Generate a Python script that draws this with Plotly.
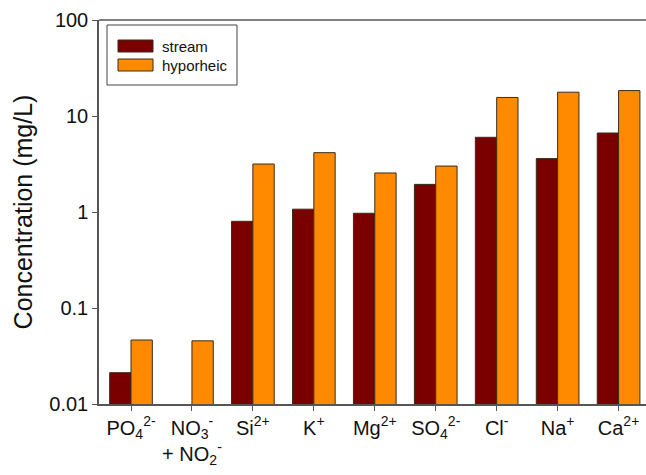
import plotly.graph_objects as go

categories = ["PO<sub>4</sub><sup>2-</sup>", "NO<sub>3</sub><sup>-</sup><br>+ NO<sub>2</sub><sup>-</sup>",
              "Si<sup>2+</sup>", "K<sup>+</sup>", "Mg<sup>2+</sup>", "SO<sub>4</sub><sup>2-</sup>",
              "Cl<sup>-</sup>", "Na<sup>+</sup>", "Ca<sup>2+</sup>"]
stream = [0.0212, None, 0.80, 1.07, 0.97, 1.94, 6.0, 3.6, 6.65]
hyporheic = [0.0464, 0.0455, 3.16, 4.15, 2.55, 3.01, 15.6, 17.7, 18.4]
ytickvals = [0.01, 0.1, 1, 10, 100]
yticktext = ["0.01", "0.1", "1", "10", "100"]

FONT = "Liberation Sans, Arial, sans-serif"
c_stream = "#7a0000"
c_hyp = "#ff8a00"
edge = dict(color="#3b2b1b", width=1)

xs = list(range(len(categories)))
fig = go.Figure()
fig.add_trace(go.Bar(x=xs, y=stream, name="stream", marker=dict(color=c_stream, line=edge), showlegend=False))
fig.add_trace(go.Bar(x=xs, y=hyporheic, name="hyporheic", marker=dict(color=c_hyp, line=edge), showlegend=False))

fig.update_layout(
    width=646, height=475,
    margin=dict(l=99, r=0, t=20, b=71),
    plot_bgcolor="white", paper_bgcolor="white",
    barmode="group", bargap=0.3, bargroupgap=0,
    font=dict(family=FONT, size=20, color="#111"),
    xaxis=dict(range=[-0.525, 8.45], tickmode="array", tickvals=xs, ticktext=categories,
               showline=True, linecolor="#555", linewidth=1.5, ticks="outside", ticklen=5,
               tickcolor="#555", showgrid=False, zeroline=False, mirror=False,
               tickfont=dict(size=20)),
    yaxis=dict(type="log", range=[-2, 2], tickmode="array", tickvals=ytickvals, ticktext=yticktext,
               showline=True, linecolor="#555", linewidth=1.5, ticks="outside", ticklen=5,
               tickcolor="#555", showgrid=False, zeroline=False,
               title=dict(text="Concentration (mg/L)", font=dict(size=25), standoff=10),
               tickfont=dict(size=20)),
)
# top frame line
fig.add_shape(type="line", xref="paper", yref="paper", x0=0, x1=1, y0=1, y1=1,
              line=dict(color="#555", width=1.5))

# legend drawn manually
def px_x(p):
    return (p - 99) / (646 - 99)
def px_y(p):
    return 1 - (p - 20) / (404 - 20)

fig.add_shape(type="rect", xref="paper", yref="paper", x0=px_x(107), x1=px_x(237), y0=px_y(25), y1=px_y(85),
              line=dict(color="#444", width=1), fillcolor="white")
for i, (lab, col) in enumerate([("stream", c_stream), ("hyporheic", c_hyp)]):
    yc = 46 + i * 19
    fig.add_shape(type="rect", xref="paper", yref="paper", x0=px_x(118), x1=px_x(153),
                  y0=px_y(yc - 6), y1=px_y(yc + 6), line=dict(color="#3b2b1b", width=1), fillcolor=col)
    fig.add_annotation(xref="paper", yref="paper", x=px_x(160), y=px_y(yc), text=lab, showarrow=False,
                       xanchor="left", yanchor="middle", font=dict(size=15, family=FONT, color="#111"))

fig.write_html("out.html", config={"displayModeBar": False},
               post_script="document.body.style.margin='0';document.body.style.overflow='hidden';")
